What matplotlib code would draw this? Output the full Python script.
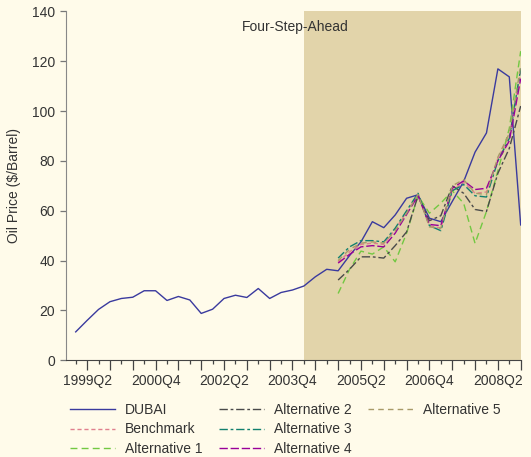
import matplotlib
matplotlib.use('Agg')
import matplotlib.pyplot as plt
from matplotlib.lines import Line2D

plt.rcParams['font.family'] = ['Liberation Sans', 'DejaVu Sans']
plt.rcParams['font.size'] = 10

# quarterly index: 0 = 1999Q1 ... 39 = 2008Q4
dubai = [11.4, 16.0, 20.4, 23.5, 24.8, 25.3, 27.9, 27.9, 24.0, 25.6,
         24.2, 18.8, 20.5, 24.8, 26.1, 25.2, 28.8, 24.8, 27.2, 28.2,
         29.8, 33.5, 36.5, 35.9, 42.0, 47.5, 55.6, 53.2, 58.3, 65.0,
         66.4, 57.0, 55.6, 63.7, 71.7, 83.5, 91.2, 116.9, 113.7, 54.3]

# forecasts start at 2004Q4 (index 23)
fc_start = 23
benchmark = [39.5, 43.5, 46.5, 47.0, 46.5, 52.5, 59.5, 66.5, 54.0, 53.0,
             68.0, 71.5, 67.0, 67.5, 81.0, 90.0, 116.0]
alt1 = [26.8, 36.5, 43.8, 42.6, 45.5, 39.5, 51.0, 66.0, 59.0, 63.0,
        68.0, 63.0, 46.9, 59.7, 76.0, 93.0, 124.0]
alt2 = [32.2, 36.5, 41.5, 41.5, 41.0, 46.0, 51.5, 66.0, 56.0, 58.0,
        70.0, 67.0, 60.5, 59.7, 75.0, 85.0, 102.0]
alt3 = [41.0, 45.5, 48.0, 48.0, 47.5, 53.0, 60.0, 67.0, 54.0, 52.0,
        68.0, 70.5, 66.0, 65.5, 80.0, 89.0, 117.0]
alt4 = [39.0, 42.5, 45.5, 46.0, 45.5, 51.0, 58.5, 66.0, 54.5, 54.0,
        69.0, 72.0, 68.5, 69.0, 80.0, 88.0, 113.0]
alt5 = [40.0, 44.5, 47.0, 47.5, 47.0, 52.0, 59.0, 66.5, 53.5, 53.0,
        70.0, 72.5, 67.0, 66.5, 81.5, 91.0, 118.0]

tick_pos = [1, 7, 13, 19, 25, 31, 37]
tick_labels = ['1999Q2', '2000Q4', '2002Q2', '2003Q4', '2005Q2', '2006Q4', '2008Q2']
shade_start = 20  # 2004Q1

bg = '#fffbea'
fig = plt.figure(figsize=(5.31, 4.57), dpi=100, facecolor=bg)
ax = fig.add_axes([0.1243, 0.2116, 0.8563, 0.7637], facecolor=bg)

ax.axvspan(shade_start, 39, color='#e2d4aa', lw=0, zorder=0)

x_all = list(range(len(dubai)))
x_fc = list(range(fc_start, fc_start + len(benchmark)))

ax.plot(x_all, dubai, color='#3a3a9e', lw=1.0, label='DUBAI')
ax.plot(x_fc, benchmark, color='#e0808e', lw=1.0, ls=(0, (3, 2)), label='Benchmark')
ax.plot(x_fc, alt1, color='#72c842', lw=1.0, ls=(0, (5, 3)), label='Alternative 1')
ax.plot(x_fc, alt2, color='#4a4a4a', lw=1.0, ls=(0, (6, 2, 2, 2)), label='Alternative 2')
ax.plot(x_fc, alt3, color='#12806e', lw=1.0, ls=(0, (6, 2, 2, 2)), label='Alternative 3')
ax.plot(x_fc, alt4, color='#990099', lw=1.0, ls=(0, (6, 2)), label='Alternative 4')
ax.plot(x_fc, alt5, color='#a89a68', lw=1.0, ls=(0, (4, 3)), label='Alternative 5')

ax.set_xlim(-0.85, 39)
ax.set_ylim(0, 140)
ax.set_yticks(range(0, 141, 20))
ax.set_ylabel('Oil Price ($/Barrel)', color='#333333', labelpad=8)

# long ticks at odd quarters, short ticks at even ones
ax.set_xticks(list(range(1, 40, 2)))
ax.set_xticklabels([tick_labels[tick_pos.index(i)] if i in tick_pos else ''
                    for i in range(1, 40, 2)])
ax.set_xticks(list(range(0, 40, 2)), minor=True)
ax.tick_params(axis='x', which='major', length=7, width=0.9, color='#444444',
               labelcolor='#333333', pad=3)
ax.tick_params(axis='x', which='minor', length=3, width=0.9, color='#444444')
ax.tick_params(axis='y', length=4.5, width=0.9, color='#777777', labelcolor='#333333')

for s in ['top', 'right']:
    ax.spines[s].set_visible(False)
ax.spines['left'].set_color('#888888')
ax.spines['bottom'].set_color('#444444')

ax.text(19.2, 133.5, 'Four-Step-Ahead', ha='center', va='center', color='#333333')

blank = Line2D([], [], color='none')
h, l = ax.get_legend_handles_labels()
handles = h[:6] + [h[6], blank, blank]
labels = l[:6] + [l[6], '', '']
fig.legend(handles, labels, ncol=3, loc='upper left',
           bbox_to_anchor=(0.131, 0.1176), frameon=False, borderpad=0,
           borderaxespad=0, handlelength=3.3, handletextpad=0.7,
           columnspacing=1.15, labelspacing=0.37, labelcolor='#333333')

fig.savefig('out.png', dpi=100, facecolor=bg)
